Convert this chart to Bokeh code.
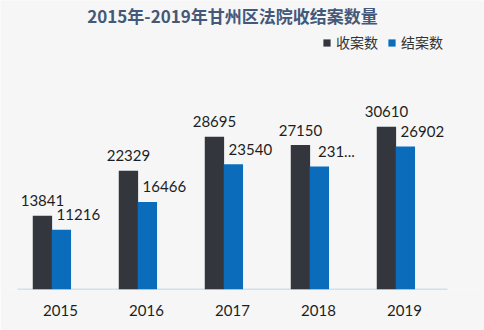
from bokeh.plotting import figure
from bokeh.models import ColumnDataSource, Label, Legend, LegendItem, FixedTicker, Range1d
from bokeh.core.properties import value
from bokeh.embed import file_html
from bokeh.resources import INLINE

years = ["2015", "2016", "2017", "2018", "2019"]
received = [13841, 22329, 28695, 27150, 30610]
closed = [11216, 16466, 23540, 23120, 26902]
received_labels = ["13841", "22329", "28695", "27150", "30610"]
closed_labels = ["11216", "16466", "23540", "231...", "26902"]
title_text = "2015年-2019年甘州区法院收结案数量"
legend_names = ["收案数", "结案数"]
watermark = "甘州区人民法院"

W, H = 484, 330
frame_bottom = 289
px_per_cat = 86.0
cat0_px = 60.0
px_per_unit = 0.00532

x0 = -cat0_px / px_per_cat
x1 = (W - cat0_px) / px_per_cat
y1 = frame_bottom / px_per_unit

def px2x(px):
    return (px - cat0_px) / px_per_cat

def py2y(py):
    return (frame_bottom - py) / px_per_unit

idx = list(range(len(years)))
src = ColumnDataSource(dict(
    xr=[i - 0.21 for i in idx], xc=[i + 0.01 for i in idx],
    received=received, closed=closed,
    rl=received_labels, cl=closed_labels))

bg = "#f6f6f6"
p = figure(width=W, height=H, output_backend="svg", toolbar_location=None,
           x_range=Range1d(x0, x1), y_range=Range1d(0, y1),
           y_axis_location=None, min_border_left=0, min_border_right=0,
           min_border_top=0, min_border_bottom=H - frame_bottom,
           background_fill_color=bg, border_fill_color=bg)
p.outline_line_color = None
p.xgrid.visible = False
p.ygrid.visible = False

xa = p.xaxis[0]
xa.ticker = FixedTicker(ticks=idx)
xa.major_label_overrides = {i: y for i, y in zip(idx, years)}
xa.axis_line_color = None
xa.major_tick_line_color = None
xa.minor_tick_line_color = None
xa.major_tick_out = 0
xa.major_tick_in = 0
xa.major_label_standoff = 15
xa.major_label_text_font = "Lato"
xa.major_label_text_font_size = "15px"
xa.major_label_text_color = "#1e1e1e"

# baseline
p.segment(x0=[-0.5], y0=[0], x1=[len(years) - 0.5], y1=[0],
          line_color="#a8cbe6", line_width=1.5)

rr = p.vbar(x="xr", top="received", width=0.225, bottom=0, source=src,
            fill_color="#33373d", line_color=None)
rc = p.vbar(x="xc", top="closed", width=0.225, bottom=0, source=src,
            fill_color="#0b6cbb", line_color=None)

p.text(x="xr", y="received", text="rl", source=src, text_align="center",
       text_baseline="middle", y_offset=-15, text_font=value("Lato"),
       text_font_size="15px", text_color="#1e1e1e")
p.text(x="xc", y="closed", text="cl", source=src, text_align="center",
       text_baseline="middle", y_offset=-15, x_offset=17, text_font=value("Lato"),
       text_font_size="15px", text_color="#1e1e1e")

p.add_layout(Label(x=px2x(232), y=py2y(15), text=title_text, text_align="center",
                   text_baseline="middle", text_font="Noto Sans CJK SC",
                   text_font_style="bold", text_font_size="17px",
                   text_color="#44597a"))

legend = Legend(items=[LegendItem(label=legend_names[0], renderers=[rr]),
                       LegendItem(label=legend_names[1], renderers=[rc])],
                orientation="horizontal", location=(322, frame_bottom - 36 - 16),
                padding=0, margin=0, spacing=9, label_standoff=5,
                glyph_width=9, glyph_height=9, label_height=16,
                label_text_font="Noto Sans CJK SC", label_text_font_size="14px",
                label_text_color="#333333", background_fill_alpha=0,
                border_line_color=None)
p.add_layout(legend, "center")

p.add_layout(Label(x=px2x(427), y=py2y(308), text=watermark, text_align="center",
                   text_baseline="middle", text_font="Noto Sans CJK SC",
                   text_font_size="12px", text_color="#9a9a9a"))

open("out.html", "w").write(file_html(p, INLINE))
